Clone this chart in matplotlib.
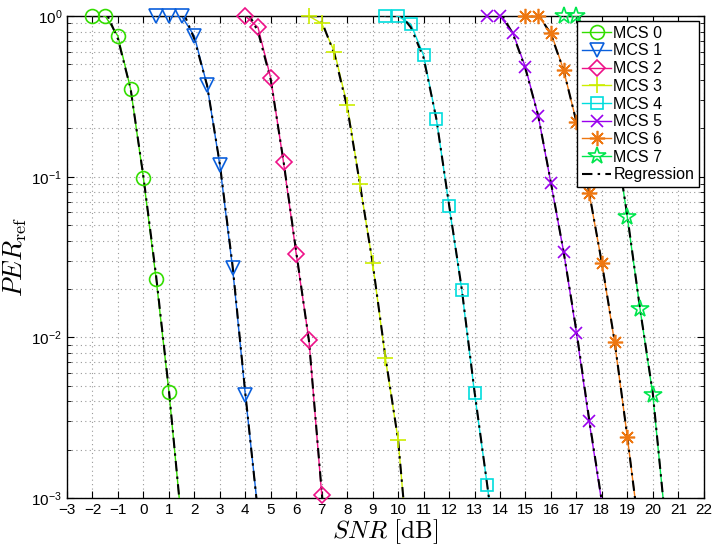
"""PER vs SNR curves per MCS with regression fits."""

import numpy as np
import matplotlib
matplotlib.use('Agg')
import matplotlib.pyplot as plt
from matplotlib.lines import Line2D
from matplotlib.ticker import LogLocator, MultipleLocator, NullFormatter

plt.rcParams['font.family'] = ['Liberation Sans', 'DejaVu Sans']
plt.rcParams['mathtext.fontset'] = 'cm'

# Simulated PER per MCS (points below 1e-3 are clipped by the axis)
snr_mcs0 = [-2.0, -1.5, -1.0, -0.5, 0.0, 0.5, 1.0, 1.5]
per_mcs0 = [1.0, 1.0, 0.75, 0.35, 0.098, 0.023, 0.0046, 0.0007]
snr_mcs1 = [0.5, 1.0, 1.5, 2.0, 2.5, 3.0, 3.5, 4.0, 4.5]
per_mcs1 = [1.0, 1.0, 1.0, 0.75, 0.37, 0.118, 0.027, 0.0044, 0.00082]
snr_mcs2 = [4.0, 4.5, 5.0, 5.5, 6.0, 6.5, 7.0, 7.5]
per_mcs2 = [1.0, 0.85, 0.41, 0.123, 0.033, 0.0096, 0.00105, 0.0001]
snr_mcs3 = [6.5, 7.0, 7.5, 8.0, 8.5, 9.0, 9.5, 10.0, 10.5]
per_mcs3 = [1.0, 0.9, 0.6, 0.28, 0.09, 0.029, 0.0074, 0.0023, 0.00029]
snr_mcs4 = [9.5, 10.0, 10.5, 11.0, 11.5, 12.0, 12.5, 13.0, 13.5, 14.0]
per_mcs4 = [1.0, 1.0, 0.89, 0.57, 0.23, 0.066, 0.0197, 0.0045, 0.0012, 0.0003]
snr_mcs5 = [13.5, 14.0, 14.5, 15.0, 15.5, 16.0, 16.5, 17.0, 17.5, 18.0]
per_mcs5 = [1.0, 1.0, 0.79, 0.48, 0.24, 0.091, 0.034, 0.0107, 0.003, 0.00093]
snr_mcs6 = [15.0, 15.5, 16.0, 16.5, 17.0, 17.5, 18.0, 18.5, 19.0, 19.5]
per_mcs6 = [1.0, 1.0, 0.79, 0.46, 0.22, 0.079, 0.029, 0.0093, 0.0024, 0.00056]
snr_mcs7 = [16.5, 17.0, 17.5, 18.0, 18.5, 19.0, 19.5, 20.0, 20.5]
per_mcs7 = [1.0, 1.0, 0.75, 0.42, 0.19, 0.056, 0.015, 0.0044, 0.0007]

# Regression fits (flat at 1 up to the threshold, then decaying)
reg_snr = [
    [-2.0, -1.4, -1.0, -0.5, 0.0, 0.5, 1.0, 1.5],
    [0.5, 1.63, 2.0, 2.5, 3.0, 3.5, 4.0, 4.5],
    [4.0, 4.18, 4.5, 5.0, 5.5, 6.0, 6.5, 7.0, 7.5],
    [6.5, 6.92, 7.5, 8.0, 8.5, 9.0, 9.5, 10.0, 10.5],
    [9.5, 10.14, 10.5, 11.0, 11.5, 12.0, 12.5, 13.0, 13.5, 14.0],
    [13.5, 14.1, 14.5, 15.0, 15.5, 16.0, 16.5, 17.0, 17.5, 18.0],
    [15.0, 15.55, 16.0, 16.5, 17.0, 17.5, 18.0, 18.5, 19.0, 19.5],
    [16.5, 17.1, 17.5, 18.0, 18.5, 19.0, 19.5, 20.0, 20.5],
]
reg_per = [
    [1.0, 1.0, 0.72, 0.35, 0.1, 0.024, 0.0047, 0.0007],
    [1.0, 1.0, 0.72, 0.37, 0.12, 0.028, 0.0045, 0.0008],
    [1.0, 1.0, 0.8, 0.4, 0.125, 0.034, 0.0095, 0.0011, 0.0001],
    [1.0, 1.0, 0.58, 0.27, 0.09, 0.029, 0.0076, 0.0023, 0.0003],
    [1.0, 1.0, 0.85, 0.55, 0.23, 0.067, 0.02, 0.0046, 0.0012, 0.0003],
    [1.0, 1.0, 0.78, 0.47, 0.24, 0.092, 0.034, 0.011, 0.0031, 0.00095],
    [1.0, 1.0, 0.77, 0.46, 0.22, 0.08, 0.029, 0.0095, 0.0024, 0.00056],
    [1.0, 1.0, 0.74, 0.42, 0.19, 0.057, 0.015, 0.0045, 0.0007],
]

labels = ['MCS 0', 'MCS 1', 'MCS 2', 'MCS 3', 'MCS 4', 'MCS 5', 'MCS 6', 'MCS 7']
snr_all = [snr_mcs0, snr_mcs1, snr_mcs2, snr_mcs3, snr_mcs4, snr_mcs5, snr_mcs6, snr_mcs7]
per_all = [per_mcs0, per_mcs1, per_mcs2, per_mcs3, per_mcs4, per_mcs5, per_mcs6, per_mcs7]

colors = ['#33dd00', '#0a5fdc', '#ee1188', '#ccee00', '#00dddd', '#9900ee', '#ee7711', '#00e64d']
markers = ['o', 'v', 'D', '+', 's', 'x', (8, 2, 0), '*']
msizes = [10, 10, 8, 12, 8, 9, 11, 13]
reg_style = (0, (5, 2.5, 1.2, 2.5))

fig = plt.figure(figsize=(7.13, 5.47), dpi=100)
ax = fig.add_axes([0.094, 0.0896, 0.893, 0.881])

handles = []
for i in range(8):
    x = np.array(snr_all[i])
    y = np.array(per_all[i])
    # line is clipped at the axes, markers drawn unclipped (inside the y range only)
    ax.plot(x, y, color=colors[i], linewidth=1.0, zorder=3)
    keep = y >= 1e-3
    ax.plot(x[keep], y[keep], linestyle='none', marker=markers[i], markersize=msizes[i],
            markerfacecolor='none', markeredgecolor=colors[i], markeredgewidth=1.2,
            zorder=5, clip_on=False)
    handles.append(Line2D([], [], color=colors[i], linewidth=1.0, marker=markers[i],
                          markersize=msizes[i], markerfacecolor='none',
                          markeredgecolor=colors[i], markeredgewidth=1.2, label=labels[i]))

for i in range(8):
    ax.plot(reg_snr[i], reg_per[i], color='black', linewidth=1.5,
            linestyle=reg_style, zorder=4)
handles.append(Line2D([], [], color='black', linewidth=1.5, linestyle=reg_style,
                      label='Regression'))

ax.set_yscale('log')
ax.set_xlim(-3, 22)
ax.set_ylim(1e-3, 1)
ax.xaxis.set_major_locator(MultipleLocator(1))
ax.yaxis.set_major_locator(LogLocator(base=10, numticks=10))
ax.yaxis.set_minor_locator(LogLocator(base=10, subs=np.arange(2, 10), numticks=20))
ax.yaxis.set_minor_formatter(NullFormatter())

ax.grid(True, which='major', linestyle=(0, (1, 3)), color='#999999', linewidth=0.8)
ax.grid(True, which='minor', axis='y', linestyle=(0, (1, 3)), color='#999999', linewidth=0.8)
ax.tick_params(which='both', direction='in', top=True, right=True, labelsize=11)
ax.tick_params(which='major', length=5)
ax.tick_params(which='minor', length=3)
for s in ax.spines.values():
    s.set_linewidth(1.0)

ax.set_xlabel(r'$SNR\ \mathrm{[dB]}$', fontsize=18, labelpad=0)
ax.set_ylabel(r'$PER_{\mathrm{ref}}$', fontsize=19, labelpad=2)

leg = ax.legend(handles=handles, loc='upper right', fontsize=11.5, handlelength=1.8,
                handletextpad=0.15, labelspacing=0.17, borderpad=0.3, borderaxespad=0.3,
                fancybox=False, framealpha=1, edgecolor='black')
leg.set_zorder(10)
leg.get_frame().set_linewidth(1.0)

plt.savefig('out.png', dpi=100)
